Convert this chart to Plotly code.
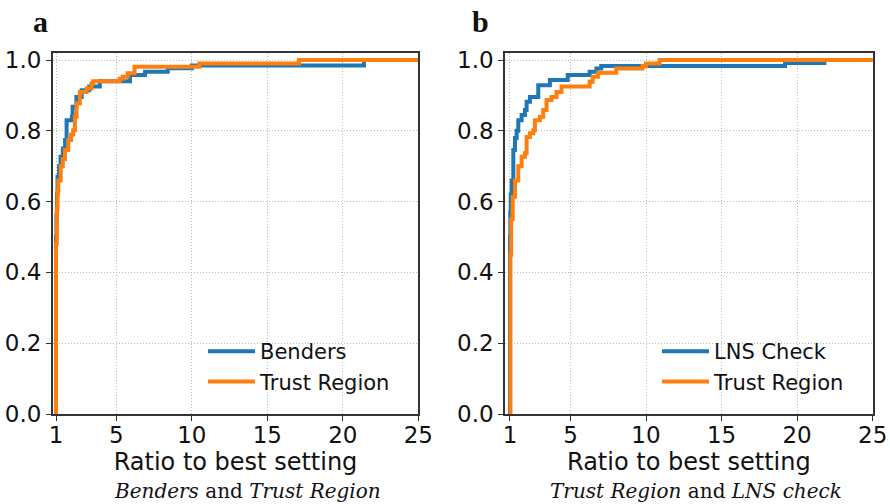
import plotly.graph_objects as go

# Panel a: Benders vs Trust Region (performance profile, step curves)
a_benders_x = [1.0, 1.0, 1.03, 1.06, 1.1, 1.2, 1.3, 1.45, 1.6, 1.7, 2.05, 2.1, 2.35, 2.7, 3.2, 3.9, 5.9, 6.9, 8.4, 10.0, 21.4, 25.0]
a_benders_y = [0.0, 0.5, 0.56, 0.62, 0.67, 0.70, 0.727, 0.75, 0.774, 0.83, 0.84, 0.868, 0.896, 0.915, 0.925, 0.94, 0.958, 0.967, 0.977, 0.985, 1.0, 1.0]

a_trust_x = [1.0, 1.0, 1.05, 1.1, 1.15, 1.31, 1.45, 1.59, 1.81, 2.0, 2.14, 2.25, 2.36, 2.58, 3.02, 3.35, 3.46, 5.22, 5.42, 5.75, 6.2, 10.5, 17.1, 25.0]
a_trust_y = [0.0, 0.48, 0.58, 0.63, 0.66, 0.70, 0.72, 0.746, 0.774, 0.79, 0.802, 0.84, 0.878, 0.91, 0.92, 0.934, 0.94, 0.947, 0.953, 0.963, 0.981, 0.99, 1.0, 1.0]

# Panel b: LNS Check vs Trust Region
b_lns_x = [1.0, 1.0, 1.02, 1.05, 1.11, 1.22, 1.33, 1.44, 1.55, 1.77, 1.99, 2.1, 2.32, 2.87, 3.64, 4.82, 6.27, 6.72, 7.04, 19.2, 21.8, 25.0]
b_lns_y = [0.0, 0.5, 0.57, 0.62, 0.66, 0.746, 0.78, 0.80, 0.83, 0.845, 0.859, 0.882, 0.896, 0.929, 0.944, 0.958, 0.967, 0.976, 0.983, 0.992, 1.0, 1.0]

b_trust_x = [1.03, 1.03, 1.08, 1.18, 1.33, 1.55, 1.77, 1.99, 2.1, 2.32, 2.54, 2.65, 2.98, 3.2, 3.42, 3.75, 4.08, 4.41, 6.27, 6.47, 6.82, 8.03, 9.77, 10.0, 10.9, 25.0]
b_trust_y = [0.0, 0.45, 0.55, 0.614, 0.66, 0.70, 0.727, 0.737, 0.783, 0.793, 0.802, 0.83, 0.84, 0.859, 0.887, 0.896, 0.91, 0.925, 0.939, 0.953, 0.964, 0.976, 0.983, 0.99, 1.0, 1.0]

x_tick_vals = [1, 5, 10, 15, 20, 25]
y_tick_vals = [0.0, 0.2, 0.4, 0.6, 0.8, 1.0]
y_tick_text = ["0.0", "0.2", "0.4", "0.6", "0.8", "1.0"]

BLUE = "#1f77b4"
ORANGE = "#ff7f0e"
SANS = "DejaVu Sans"
LW = 4

fig = go.Figure()
fig.add_trace(go.Scatter(x=a_benders_x, y=a_benders_y, mode="lines", line=dict(color=BLUE, width=LW, shape="hv"),
                         name="Benders", xaxis="x", yaxis="y", legend="legend"))
fig.add_trace(go.Scatter(x=a_trust_x, y=a_trust_y, mode="lines", line=dict(color=ORANGE, width=LW, shape="hv"),
                         name="Trust Region", xaxis="x", yaxis="y", legend="legend"))
fig.add_trace(go.Scatter(x=b_lns_x, y=b_lns_y, mode="lines", line=dict(color=BLUE, width=LW, shape="hv"),
                         name="LNS Check", xaxis="x2", yaxis="y2", legend="legend2"))
fig.add_trace(go.Scatter(x=b_trust_x, y=b_trust_y, mode="lines", line=dict(color=ORANGE, width=LW, shape="hv"),
                         name="Trust Region", xaxis="x2", yaxis="y2", legend="legend2"))

W, H = 890, 504
ydom = [1 - 414 / H, 1 - 53 / H]
GRID = dict(showgrid=True, gridcolor="#b8b8b8", griddash="1px,2px", gridwidth=1)

def xax(domain, rng, anchor):
    return dict(domain=domain, range=rng, anchor=anchor, tickvals=x_tick_vals, automargin=False,
                ticks="outside", ticklen=5, tickwidth=1.2, tickcolor="#333", ticklabelstandoff=-5,
                showline=True, linecolor="#333", linewidth=1.5, mirror=True,
                zeroline=False, tickfont=dict(family=SANS, size=23, color="#111"),
                title=dict(text="Ratio to best setting", font=dict(family=SANS, size=24, color="#111"), standoff=0),
                **GRID)

def yax(rng, anchor):
    return dict(domain=ydom, range=rng, anchor=anchor, tickvals=y_tick_vals, ticktext=y_tick_text, automargin=False,
                ticks="outside", ticklen=5, tickwidth=1.2, tickcolor="#333",
                showline=True, linecolor="#333", linewidth=1.5, mirror=True,
                zeroline=False, tickfont=dict(family=SANS, size=23, color="#111"),
                **GRID)

fig.update_layout(
    width=W, height=H, autosize=False,
    margin=dict(l=0, r=0, t=0, b=0, pad=0),
    paper_bgcolor="white", plot_bgcolor="white",
    xaxis=xax([52.7 / W, 418.3 / W], [0.78, 25], "y"),
    yaxis=yax([0, 1.02], "x"),
    xaxis2=xax([505 / W, 872.7 / W], [0.67, 25], "y2"),
    yaxis2=yax([0, 1.02], "x2"),
    legend=dict(x=203 / W, y=1 - 331 / H, xanchor="left", yanchor="top", bgcolor="rgba(255,255,255,0)",
                font=dict(family=SANS, size=21, color="#111"), itemwidth=47, tracegroupgap=0),
    legend2=dict(x=657 / W, y=1 - 331 / H, xanchor="left", yanchor="top", bgcolor="rgba(255,255,255,0)",
                 font=dict(family=SANS, size=21, color="#111"), itemwidth=47, tracegroupgap=0),
    annotations=[
        dict(text="<b>a</b>", x=40 / W, y=1 - 22 / H, xref="paper", yref="paper", showarrow=False,
             xanchor="center", yanchor="middle", font=dict(family="Liberation Serif", size=30, color="#111")),
        dict(text="<b>b</b>", x=480 / W, y=1 - 22 / H, xref="paper", yref="paper", showarrow=False,
             xanchor="center", yanchor="middle", font=dict(family="Liberation Serif", size=30, color="#111")),
        dict(text="<i>Benders</i> and <i>Trust Region</i>", x=248 / W, y=1 - 491 / H, xref="paper", yref="paper",
             xanchor="center", yanchor="middle", showarrow=False, font=dict(family="DejaVu Serif", size=20, color="#111")),
        dict(text="<i>Trust Region</i> and <i>LNS check</i>", x=696 / W, y=1 - 491 / H, xref="paper", yref="paper",
             xanchor="center", yanchor="middle", showarrow=False, font=dict(family="DejaVu Serif", size=20, color="#111")),
    ],
)

fig.write_html("out.html", config={"displayModeBar": False},
               post_script="document.body.style.margin='0';")
